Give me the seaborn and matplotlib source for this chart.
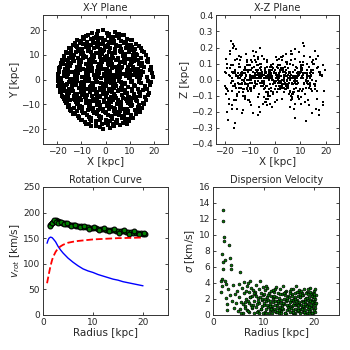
import matplotlib
matplotlib.use('Agg')
import matplotlib.pyplot as plt
import seaborn as sns

# particle positions [kpc], read row by row off the X-Y / X-Z panels
pos_x = [
    -5.6, -3.1, -0.9, 1.4, 3.9, 5.8,
    -9.3, -7.4, -4.1, -2.7, 0.9, 2.2, 4.9, 7.8, 9.0,
    -11.8, -8.9, -7.6, -4.6, -3.3, -0.2, 1.6, 3.0, 6.4, 8.5, 11.2,
    -13.7, -10.6, -9.2, -6.1, -4.9, -1.7, -0.4, 2.9, 4.2, 7.7, 9.1, 12.5,
    -15.1, -12.2, -11.0, -8.0, -6.7, -3.6, -2.3, 0.8, 2.0, 5.3, 6.5, 9.7, 11.0, 14.6,
    -16.3, -14.4, -11.3, -10.1, -7.1, -5.9, -2.9, -1.6, 1.5, 2.8, 5.9, 7.0, 10.3, 11.8, 15.9,
    -17.2, -14.3, -13.1, -10.0, -8.8, -5.8, -4.6, -1.5, -0.3, 2.7, 4.0, 7.1, 8.3, 11.5, 12.8, 16.7,
    -18.1, -15.0, -13.7, -10.4, -9.2, -6.0, -4.8, -1.6, 0.1, 3.3, 4.5, 7.8, 9.0, 12.3, 13.6, 17.5,
    -18.6, -15.7, -14.4, -11.2, -10.0, -6.9, -5.7, -2.6, -1.4, 1.7, 2.9, 6.1, 7.3, 10.5, 11.8, 15.2, 17.7,
    -19.1, -16.2, -14.9, -11.7, -10.6, -7.4, -6.2, -3.0, -1.9, 1.3, 2.5, 5.7, 6.9, 10.2, 11.5, 14.9, 18.8,
    -19.4, -16.8, -15.5, -12.3, -11.1, -8.0, -6.8, -3.7, -2.5, 0.6, 1.8, 4.9, 6.1, 9.2, 10.4, 13.6, 14.9, 19.0,
    -19.7, -17.1, -15.8, -12.7, -11.5, -8.3, -7.1, -4.0, -2.8, 0.3, 1.4, 4.6, 5.8, 8.9, 10.1, 13.3, 14.6, 19.4,
    -19.9, -17.4, -16.1, -13.0, -11.8, -8.7, -7.5, -4.4, -3.2, -0.1, 1.1, 4.2, 5.4, 8.5, 9.8, 12.9, 14.2, 19.6,
    -19.8, -18.2, -15.4, -14.1, -12.0, -9.6, -8.3, -5.5, -3.9, -1.8, 0.7, 2.4, 3.5, 6.6, 8.0, 10.9, 13.8, 18.9,
    -19.3, -17.8, -16.6, -13.9, -12.4, -10.2, -9.0, -6.3, -5.1, -1.2, 0.0, 3.1, 3.9, 6.9, 9.5, 11.7, 16.3, 18.4,
    -19.0, -17.6, -14.5, -13.5, -10.9, -9.8, -7.7, -5.3, -4.5, -2.0, -0.6, 2.0, 3.7, 7.4, 8.2, 11.1, 15.6, 17.3,
    -18.5, -16.0, -15.2, -12.6, -10.3, -9.1, -6.5, -4.1, -3.5, -0.9, 0.8, 3.4, 5.0, 8.8, 12.0, 13.9, 17.9,
    -18.0, -16.5, -13.3, -12.1, -9.9, -8.6, -5.6, -3.4, -2.2, 0.4, 2.3, 4.4, 6.7, 9.4, 11.2, 14.4, 16.4,
    -17.3, -16.0, -12.9, -11.6, -8.1, -7.0, -4.4, -2.9, -0.7, 1.9, 3.0, 6.3, 8.4, 10.7, 13.2, 17.0,
    -16.6, -15.2, -12.0, -10.8, -7.6, -6.6, -3.5, -2.4, 0.9, 1.6, 4.7, 5.9, 9.3, 10.1, 14.0, 16.2,
    -15.7, -14.5, -11.0, -9.9, -6.8, -5.4, -2.1, -1.0, 2.1, 3.9, 6.2, 8.9, 10.8, 13.5, 15.1,
    -14.4, -13.0, -9.7, -8.5, -5.2, -4.3, -1.1, 0.2, 3.6, 4.8, 8.0, 9.0, 12.4, 14.2,
    -12.9, -11.5, -7.9, -6.8, -3.4, -2.6, 1.2, 2.3, 5.6, 6.8, 10.6, 12.7,
    -11.1, -9.6, -6.3, -4.0, -2.0, 0.3, 2.6, 4.6, 6.9, 9.3, 11.6,
    -8.5, -7.0, -3.8, -1.4, 0.0, 3.3, 4.4, 7.1, 9.6,
    -5.9, -2.5, -1.2, 1.7, 3.5, 6.1,
]
pos_y = [
    18.8, 19.5, 19.9, 18.6, 19.2, 18.3,
    17.1, 18.0, 17.3, 16.7, 17.8, 16.9, 17.5, 17.9, 16.6,
    15.9, 16.4, 15.3, 16.8, 15.7, 16.1, 15.2, 16.6, 15.8, 15.4, 16.2,
    14.0, 14.9, 14.3, 13.9, 15.0, 14.5, 13.8, 14.7, 14.1, 14.8, 13.9, 14.4,
    12.9, 13.5, 12.4, 13.2, 12.6, 13.4, 12.3, 13.1, 12.7, 13.6, 12.5, 13.0, 13.3, 12.8,
    11.1, 11.9, 11.4, 10.8, 11.7, 11.2, 10.9, 11.8, 11.3, 10.7, 11.6, 11.0, 11.9, 11.4, 11.2,
    9.6, 10.3, 9.8, 10.5, 9.4, 10.1, 9.7, 10.4, 9.3, 10.0, 10.6, 9.5, 10.2, 9.8, 10.4, 9.9,
    8.0, 8.8, 8.3, 7.9, 8.7, 8.2, 9.0, 8.4, 7.8, 8.6, 8.1, 8.9, 8.3, 8.7, 7.9, 8.5,
    6.6, 7.4, 6.9, 6.3, 7.2, 6.7, 7.5, 6.5, 7.1, 7.6, 6.4, 7.0, 7.3, 6.6, 7.5, 6.8, 7.1,
    5.1, 5.9, 5.4, 4.9, 5.7, 5.2, 6.0, 5.0, 5.6, 5.8, 4.8, 5.5, 5.1, 5.9, 5.3, 5.7, 5.2,
    3.6, 4.4, 3.9, 3.4, 4.2, 3.7, 4.5, 3.5, 4.1, 4.3, 3.3, 4.0, 3.6, 4.4, 3.8, 4.2, 3.5, 4.0,
    2.1, 2.9, 2.4, 1.9, 2.7, 2.2, 3.0, 2.0, 2.6, 2.8, 1.8, 2.5, 2.1, 2.9, 2.3, 2.7, 2.0, 2.5,
    0.6, 1.4, 0.9, 0.4, 1.2, 0.7, 1.5, 0.5, 1.1, 1.3, 0.3, 1.0, 0.6, 1.4, 0.8, 1.2, 0.5, 1.0,
    -0.5, -1.3, -0.8, -1.5, -0.4, -1.1, -0.7, -1.4, -0.6, -1.2, -0.9, -1.5, -0.3, -1.0, -1.3, -0.6, -1.1, -0.8,
    -2.0, -2.8, -2.3, -3.0, -1.9, -2.6, -2.2, -2.9, -2.1, -2.7, -2.4, -3.0, -1.8, -2.5, -2.8, -2.1, -2.6, -2.3,
    -3.5, -4.3, -3.8, -4.5, -3.4, -4.1, -3.7, -4.4, -3.6, -4.2, -3.9, -4.5, -3.3, -4.0, -4.3, -3.6, -4.1, -3.8,
    -5.0, -5.8, -5.3, -6.0, -4.9, -5.6, -5.2, -5.9, -5.1, -5.7, -5.4, -6.0, -4.8, -5.5, -5.8, -5.1, -5.4,
    -6.5, -7.3, -6.8, -7.5, -6.4, -7.1, -6.7, -7.4, -6.6, -7.2, -6.9, -7.5, -6.3, -7.0, -7.3, -6.6, -7.1,
    -8.0, -8.8, -8.3, -9.0, -7.9, -8.6, -8.2, -8.9, -8.1, -8.7, -8.4, -9.0, -7.8, -8.5, -8.8, -8.2,
    -9.5, -10.3, -9.8, -10.5, -9.4, -10.1, -9.7, -10.4, -9.6, -10.2, -9.9, -10.6, -9.3, -10.0, -10.3, -9.7,
    -11.0, -11.8, -11.3, -12.0, -10.9, -11.6, -11.2, -11.9, -11.1, -11.7, -11.4, -12.0, -10.8, -11.5, -11.3,
    -12.6, -13.4, -12.9, -13.6, -12.5, -13.2, -12.8, -13.5, -12.7, -13.3, -13.0, -13.6, -12.4, -13.1,
    -14.1, -14.9, -14.4, -15.0, -14.0, -14.7, -14.3, -14.9, -14.2, -14.8, -14.5, -14.0,
    -15.6, -16.4, -15.9, -16.6, -15.5, -16.2, -15.8, -16.5, -15.4, -16.1, -15.7,
    -17.0, -17.9, -17.3, -18.1, -17.6, -17.8, -17.1, -17.5, -16.8,
    -18.6, -19.3, -19.8, -19.5, -18.7, -18.3,
]
pos_z = [
    0.02, -0.04, 0.07, -0.01, 0.05, -0.08,
    0.11, -0.03, 0.04, -0.09, 0.01, 0.06, -0.05, 0.13, -0.02,
    -0.12, 0.05, 0.17, -0.02, 0.08, -0.06, 0.03, 0.15, -0.10, 0.01, 0.09,
    0.14, -0.07, 0.02, 0.10, -0.15, 0.04, -0.01, 0.07, -0.04, 0.19, -0.11, 0.06,
    -0.18, 0.06, -0.03, 0.12, 0.01, -0.08, 0.05, -0.13, 0.09, -0.02, 0.16, -0.06, 0.03, 0.11,
    0.21, -0.05, 0.09, -0.14, 0.03, 0.07, -0.10, 0.02, -0.04, 0.12, -0.17, 0.05, 0.08, -0.09, 0.18,
    -0.16, 0.10, -0.02, 0.06, -0.21, 0.01, 0.13, -0.07, 0.04, -0.12, 0.08, 0.02, -0.05, 0.15, -0.03, 0.07,
    0.18, -0.09, 0.04, -0.13, 0.07, 0.20, -0.02, 0.09, -0.06, 0.03, 0.11, -0.15, 0.05, -0.01, 0.14, -0.19,
    -0.25, 0.03, 0.15, -0.06, 0.01, -0.11, 0.08, 0.02, -0.17, 0.05, -0.03, 0.12, -0.08, 0.06, -0.14, 0.10, 0.04,
    0.07, -0.13, 0.02, 0.16, -0.04, 0.09, -0.20, 0.03, 0.06, -0.01, 0.14, -0.07, 0.01, -0.11, 0.21, 0.04, -0.16,
    -0.09, 0.22, -0.05, 0.04, 0.11, -0.02, 0.06, -0.14, 0.01, 0.08, -0.06, 0.03, 0.18, -0.10, 0.05, -0.03, 0.12, 0.09,
    0.13, -0.18, 0.06, -0.08, 0.02, 0.15, -0.03, 0.07, -0.12, 0.04, 0.01, -0.05, 0.10, 0.02, -0.15, 0.08, -0.21, -0.07,
    -0.04, 0.09, -0.27, 0.03, -0.10, 0.05, 0.01, -0.06, 0.12, -0.02, 0.07, 0.16, -0.09, 0.04, 0.11, -0.13, 0.02, 0.06,
    0.05, -0.12, 0.19, -0.03, 0.08, -0.16, 0.02, 0.10, -0.05, 0.03, -0.08, 0.14, 0.01, -0.11, 0.06, 0.23, -0.04, -0.14,
    -0.20, 0.07, -0.01, 0.12, -0.06, 0.03, 0.18, -0.09, 0.05, 0.01, -0.14, 0.06, -0.02, 0.09, -0.07, 0.04, 0.13, 0.03,
    0.10, 0.24, -0.08, 0.02, -0.13, 0.06, -0.03, 0.15, 0.01, -0.10, 0.04, -0.05, 0.08, -0.18, 0.02, 0.11, -0.06, -0.22,
    -0.15, 0.04, 0.13, -0.06, 0.09, -0.02, -0.17, 0.05, 0.02, -0.08, 0.12, 0.00, -0.04, 0.07, -0.26, 0.14, 0.05,
    0.16, -0.30, 0.05, -0.11, 0.02, 0.08, -0.04, 0.11, -0.15, 0.03, -0.01, 0.06, -0.09, 0.17, 0.04, -0.07, -0.12,
    -0.07, 0.12, -0.19, 0.06, -0.02, 0.14, 0.03, -0.08, 0.10, -0.04, 0.05, -0.13, 0.08, 0.01, -0.05, 0.15,
    0.20, -0.10, 0.07, -0.03, 0.11, -0.17, 0.01, 0.06, -0.06, 0.13, -0.01, 0.04, -0.12, 0.09, 0.02, -0.18,
    -0.13, 0.15, -0.05, 0.09, -0.22, 0.04, 0.01, -0.09, 0.07, -0.03, 0.16, -0.07, 0.02, -0.16, 0.10,
    0.08, -0.21, 0.12, -0.04, 0.03, -0.11, 0.06, 0.14, -0.08, 0.02, -0.24, 0.05, 0.10, -0.06,
    -0.10, 0.06, -0.02, 0.13, -0.16, 0.04, 0.09, -0.05, 0.01, -0.12, 0.07, 0.03,
    0.12, -0.07, 0.03, -0.14, 0.08, 0.01, -0.04, 0.10, -0.09, 0.05, -0.02,
    -0.05, 0.09, -0.12, 0.02, 0.06, -0.03, 0.11, -0.08, 0.04,
    0.03, -0.06, 0.08, -0.02, 0.05, -0.10,
]

# second batch of particles, band by band (mostly close to the mid-plane)
pos2_x = [
    -8.1, -6.2, -3.7, -1.3, 0.5, 2.1, 3.3, 5.6, 6.9, 10.4,
    -14.2, -12.9, -12.0, -10.1, -9.6, -7.8, -5.4, -5.0, -3.1, -1.0, -0.6, 1.2, 3.7, 3.8, 5.9, 8.2, 8.6, 10.4, 12.2, 13.9,
    -17.3, -16.0, -15.6, -13.8, -12.4, -11.6, -9.5, -8.1, -7.0, -5.2, -3.9, -2.4, -0.9, 0.7, 1.9, 3.6, 5.1, 6.4, 8.0, 9.8, 10.6, 12.9, 14.8, 15.2,
    -19.2, -17.9, -16.8, -15.9, -14.6, -13.1, -12.0, -10.9, -9.4, -8.2, -7.0, -5.5, -4.3, -2.9, -1.7, -0.5, 0.9, 2.3, 3.8, 4.9, 6.6, 7.9, 9.5, 11.0, 12.6, 13.8, 16.2, 17.1,
    -19.5, -18.6, -17.0, -16.4, -14.7, -13.9, -12.2, -10.6, -9.7, -8.1, -6.9, -5.8, -4.6, -3.0, -1.9, -0.6, 0.8, 2.5, 3.2, 4.8, 6.0, 7.3, 8.8, 10.2, 11.6, 12.4, 14.0, 15.8, 17.3, 18.5,
    -19.6, -18.4, -17.2, -16.0, -15.1, -13.3, -12.8, -11.2, -10.0, -8.9, -7.4, -6.0, -4.9, -3.4, -2.3, -0.9, 0.4, 1.5, 2.9, 4.5, 5.7, 6.3, 7.9, 9.2, 10.6, 12.1, 13.4, 14.6, 16.5, 17.8,
    -19.0, -17.7, -16.9, -15.7, -14.1, -13.2, -11.8, -10.6, -9.5, -7.9, -6.6, -5.1, -3.8, -2.5, -1.1, 0.1, 1.4, 2.8, 4.1, 5.6, 7.1, 8.3, 9.9, 11.1, 12.8, 14.2, 15.7, 17.6,
    -16.9, -15.8, -14.7, -13.2, -12.1, -10.4, -9.6, -8.2, -6.4, -5.3, -3.7, -2.0, -0.8, 0.6, 2.2, 3.4, 5.3, 6.6, 7.8, 9.0, 11.2, 12.5, 13.7, 15.6,
    -14.8, -13.6, -11.9, -11.0, -9.2, -7.4, -6.1, -4.8, -3.0, -1.9, -0.1, 1.6, 2.7, 4.1, 6.0, 7.6, 9.4, 10.8, 12.6, 14.1,
    -10.2, -8.0, -6.0, -3.9, -2.2, 0.9, 1.8, 4.9, 7.9, 8.8,
]
pos2_y = [
    17.6, 16.3, 18.4, 16.9, 18.9, 16.2, 17.4, 16.8, 18.0, 16.1,
    12.5, 14.8, 13.1, 15.6, 12.2, 14.0, 15.3, 12.8, 13.9, 15.4, 12.1, 14.2, 15.6, 12.4, 13.7, 15.2, 12.9, 14.1, 12.3, 13.6,
    8.9, 10.9, 8.1, 9.2, 11.3, 8.6, 10.8, 9.1, 11.5, 8.4, 10.7, 9.0, 11.6, 9.6, 8.3, 10.9, 8.8, 11.3, 9.4, 11.0, 8.2, 10.1, 8.7, 11.6,
    4.6, 6.2, 7.9, 4.3, 6.0, 7.7, 5.0, 7.1, 4.5, 6.4, 8.0, 4.9, 7.3, 5.4, 7.9, 4.2, 6.2, 7.6, 5.3, 7.8, 4.6, 6.8, 5.0, 7.3, 4.4, 6.5, 5.1, 7.4,
    2.9, 0.7, 3.6, 1.8, 0.2, 3.1, 1.5, 3.8, 0.9, 2.5, 0.3, 3.4, 1.7, 3.9, 0.8, 2.2, 3.6, 0.4, 2.0, 3.3, 0.9, 2.4, 3.8, 0.5, 1.9, 3.5, 0.8, 2.9, 1.1, 3.7,
    -2.6, -0.9, -3.3, -1.6, -3.9, -0.4, -2.2, -3.5, -1.3, -3.0, -0.6, -2.4, -3.8, -1.0, -3.2, -1.9, -0.2, -3.6, -1.5, -2.7, -0.5, -3.4, -1.8, -3.1, -0.8, -2.6, -3.9, -1.2, -2.9, -0.4,
    -5.2, -7.1, -4.6, -6.6, -4.2, -7.8, -5.7, -7.4, -4.8, -6.3, -4.5, -7.7, -5.5, -7.0, -4.4, -6.4, -7.9, -5.0, -6.8, -4.3, -7.5, -5.4, -6.9, -4.7, -7.2, -5.6, -4.4, -6.4,
    -8.7, -10.9, -8.2, -11.4, -9.1, -8.3, -11.0, -9.5, -11.7, -8.6, -10.2, -11.8, -8.9, -10.8, -9.2, -11.6, -8.4, -10.4, -11.9, -8.6, -10.3, -8.1, -11.2, -9.3,
    -12.2, -13.9, -12.6, -15.1, -13.4, -12.1, -15.6, -13.7, -12.3, -15.0, -13.2, -12.0, -15.4, -13.8, -12.5, -14.6, -12.8, -15.3, -13.5, -12.4,
    -16.4, -18.0, -16.9, -18.7, -16.3, -18.4, -16.7, -17.5, -16.2, -17.9,
]
pos2_z = [
    0.03, -0.02, 0.05, 0.00, -0.04, 0.02, -0.01, 0.04, -0.03, 0.01,
    -0.03, 0.04, 0.01, -0.05, 0.02, 0.06, -0.01, 0.03, -0.04, 0.00, 0.05, -0.02, 0.02, -0.06, 0.04, 0.01, -0.03, 0.07, 0.00, -0.02,
    0.05, -0.04, 0.02, 0.08, -0.01, 0.03, -0.06, 0.01, 0.04, -0.02, 0.06, 0.00, -0.03, 0.02, 0.05, -0.05, 0.01, 0.03, -0.01, 0.04, -0.07, 0.02, 0.06, -0.03,
    -0.06, 0.02, 0.09, -0.03, 0.04, 0.00, -0.02, 0.05, 0.01, -0.04, 0.03, 0.06, -0.01, 0.02, -0.05, 0.04, 0.00, -0.02, 0.03, 0.07, -0.03, 0.01, 0.05, -0.06, 0.02, 0.04, -0.01, 0.08,
    0.04, -0.07, 0.01, 0.05, -0.02, 0.03, 0.00, -0.04, 0.06, 0.02, -0.01, 0.04, -0.03, 0.01, 0.05, -0.02, 0.03, 0.07, -0.05, 0.00, 0.02, -0.01, 0.04, 0.06, -0.03, 0.01, 0.03, -0.04, 0.05, 0.02,
    -0.05, 0.03, -0.01, 0.06, 0.02, -0.03, 0.04, 0.00, -0.06, 0.01, 0.05, -0.02, 0.03, -0.04, 0.02, 0.07, -0.01, 0.04, 0.00, -0.03, 0.05, 0.01, -0.02, 0.03, 0.06, -0.05, 0.02, 0.00, -0.07, 0.04,
    0.07, -0.02, 0.04, -0.05, 0.01, 0.03, -0.03, 0.06, 0.00, -0.01, 0.04, 0.02, -0.04, 0.05, 0.01, -0.02, 0.03, 0.00, -0.06, 0.04, 0.02, -0.03, 0.05, 0.01, -0.01, 0.06, -0.04, 0.03,
    -0.04, 0.05, 0.01, -0.02, 0.06, 0.00, -0.05, 0.03, 0.02, -0.01, 0.04, -0.03, 0.07, 0.01, -0.04, 0.02, 0.05, -0.02, 0.00, 0.03, -0.06, 0.04, 0.01, -0.03,
    0.02, -0.05, 0.04, 0.00, -0.02, 0.06, 0.01, -0.04, 0.03, 0.05, -0.01, 0.02, -0.03, 0.04, 0.00, -0.06, 0.03, 0.01, -0.02, 0.05,
    -0.02, 0.04, 0.01, -0.05, 0.03, 0.00, 0.06, -0.03, 0.02, -0.01,
]

# measured rotation speeds [km/s]
rot_r = [1.3, 1.5, 1.7, 1.9, 2.1, 2.3, 2.5, 2.7, 2.9, 3.1,
         3.4, 3.7, 4.0, 4.3, 4.6, 5.0, 5.4, 5.8, 6.2, 6.6,
         7.0, 7.5, 8.0, 8.5, 9.0, 9.5, 10.0, 10.5, 11.0, 11.5,
         12.0, 12.5, 13.0, 13.5, 14.0, 14.5, 15.0, 15.5, 16.0, 16.5,
         17.0, 17.5, 18.0, 18.5, 19.0, 19.5, 20.0, 20.3,
         1.4, 1.8, 2.2, 2.6, 3.0, 3.5, 4.1, 4.8, 5.6, 6.4, 7.3, 8.2,
         9.2, 10.2, 11.2, 12.2, 13.2, 14.2, 15.2, 16.2, 17.2, 18.2, 19.2, 20.1]
rot_v = [175, 177, 179, 181, 183, 184, 185, 184, 183, 182,
         181, 180, 179.5, 179, 178, 177, 176.5, 176, 175, 174.5,
         174, 173, 172, 171.5, 171, 170, 169.5, 169, 168, 167.5,
         167, 166.5, 166, 165.5, 165, 164.5, 164, 163.5, 163, 162.5,
         162, 161.5, 161, 160.5, 160, 159.5, 159, 158.5,
         173, 180, 186, 181, 179, 182, 177, 180, 173, 176, 171, 174,
         168, 171, 165, 169, 163, 167, 161, 165, 159, 163, 158, 161]

# model components
model_r = [0.8, 1.0, 1.2, 1.5, 1.8, 2.0, 2.5, 3.0, 3.5, 4.0, 5.0, 6.0, 7.0,
           8.0, 9.0, 10.0, 11.0, 12.0, 13.0, 14.0, 15.0, 16.0, 17.0, 18.0, 19.0, 20.0]
v_blue = [140, 146, 150, 152, 151, 149, 143, 134, 127, 121, 111, 103, 96,
          90, 86, 83, 79, 76, 73, 70, 68, 65, 63, 61, 59, 57]
v_red = [62, 72, 82, 96, 107, 113, 123, 130, 134, 137, 141, 143, 144.5,
         145.5, 146.5, 147.5, 148, 148.5, 149, 149.5, 150, 150, 150.5, 150.5, 151, 151]

# velocity dispersion [km/s]
disp_r = [1.5, 1.6, 1.7, 1.8, 1.9, 2.0, 2.0, 2.1, 2.2, 2.3, 2.0, 1.7, 2.4, 2.6, 2.5,
          2.8, 3.0, 3.2, 3.4, 3.5, 3.6, 3.3, 3.8, 4.0, 4.2, 4.4, 4.6, 4.8, 4.9, 2.7,
          5.1, 5.3, 5.4, 5.6, 5.8, 5.9, 6.1, 6.2, 6.4, 6.5, 6.7, 6.8, 7.0, 7.1, 7.2,
          7.4, 7.5, 7.7, 7.8, 8.0, 8.1, 8.2, 8.4, 8.5, 8.6, 8.8, 8.9, 9.0, 9.1, 9.3,
          9.4, 9.5, 9.6, 9.8, 9.9, 5.5, 6.0, 6.6, 7.3, 7.9, 8.3, 8.7, 9.2, 9.7, 5.2,
          6.3, 7.6, 8.9, 9.9, 6.9,
          10.0, 10.1, 10.2, 10.3, 10.4, 10.5, 10.6, 10.7, 10.8, 10.9, 11.0, 11.1, 11.2,
          11.3, 11.4, 11.5, 11.6, 11.7, 11.8, 11.9, 12.0, 12.1, 12.2, 12.3, 12.4, 12.5,
          12.6, 12.7, 12.8, 12.9, 13.0, 13.1, 13.2, 13.3, 13.4, 13.5, 13.6, 13.7, 13.8,
          13.9, 14.0, 14.1, 14.2, 14.3, 14.4, 14.5, 14.6, 14.7, 14.8, 14.9, 10.5, 11.5,
          12.5, 13.5, 14.5, 10.2, 11.3, 12.3, 13.2, 14.2,
          15.0, 15.1, 15.2, 15.3, 15.4, 15.5, 15.6, 15.7, 15.8, 15.9, 16.0, 16.1, 16.2,
          16.3, 16.4, 16.5, 16.6, 16.7, 16.8, 16.9, 17.0, 17.1, 17.2, 17.3, 17.4, 17.5,
          17.6, 17.7, 17.8, 17.9, 18.0, 18.1, 18.2, 18.3, 18.4, 18.5, 18.6, 18.7, 18.8,
          18.9, 19.0, 19.1, 19.2, 19.3, 19.4, 19.5, 19.6, 19.7, 19.8, 19.9, 20.0, 20.1,
          20.2, 20.3, 20.4, 15.2, 15.8, 16.3, 16.9, 17.4, 17.9, 18.4, 18.9, 19.4, 19.9,
          20.2, 15.5, 16.6, 17.7, 18.8, 19.6, 20.0, 15.9, 17.1, 18.2, 19.1, 20.3, 16.2,
          19.3, 20.1,
          6.3, 6.9, 7.4, 7.8, 8.2, 8.7, 9.1, 9.6, 10.1, 10.4, 10.8, 11.2, 11.6, 11.9,
          12.2, 12.6, 12.9, 13.3, 13.6, 13.9, 14.3, 14.6, 14.9, 15.1, 15.4, 15.6, 15.9,
          16.1, 16.4, 16.6, 16.9, 17.1, 17.3, 17.6, 17.8, 18.1, 18.3, 18.6, 18.8, 19.0,
          19.2, 19.5, 19.7, 19.9, 20.1, 20.3, 10.6, 11.4, 12.0, 12.8, 13.4, 14.1, 14.7,
          15.3, 15.8, 16.3, 16.8, 17.2, 17.7, 18.2, 18.7, 19.1, 19.6, 20.0, 20.4, 8.5,
          9.4, 7.1, 11.8, 13.0]
disp_s = [2.9, 4.2, 3.6, 7.6, 13.1, 11.8, 6.6, 9.3, 9.7, 6.9, 5.8, 4.5, 4.3, 3.9, 2.1,
          1.4, 3.2, 8.8, 7.1, 5.7, 6.2, 2.5, 1.8, 3.7, 0.9, 2.6, 1.5, 3.0, 0.5, 0.6,
          2.2, 0.8, 5.4, 1.6, 3.4, 0.3, 2.7, 4.1, 1.1, 2.0, 0.6, 3.6, 1.8, 2.9, 0.4,
          4.2, 1.3, 2.4, 0.9, 3.1, 1.7, 0.2, 2.6, 3.8, 1.0, 2.1, 0.5, 3.3, 1.5, 4.3,
          0.7, 2.8, 1.9, 0.3, 3.5, 0.2, 1.4, 3.0, 2.2, 1.2, 2.9, 0.4, 2.3, 1.1, 3.9,
          0.9, 3.4, 1.8, 2.5, 4.0,
          1.2, 2.6, 0.4, 3.1, 1.7, 0.8, 2.2, 3.4, 1.0, 1.9, 0.3, 2.8, 1.4,
          0.6, 2.4, 3.0, 1.1, 0.2, 2.0, 1.6, 2.9, 0.7, 1.8, 3.3, 0.4, 2.3,
          1.3, 0.9, 2.7, 1.5, 0.2, 2.1, 3.2, 1.0, 1.9, 0.5, 2.6, 1.2, 3.6,
          0.8, 2.0, 1.4, 0.3, 2.5, 1.7, 3.0, 0.6, 1.9, 1.1, 2.4, 3.6, 0.9,
          3.5, 1.5, 0.1, 2.0, 1.8, 0.5, 0.7, 2.9,
          1.3, 2.2, 0.4, 3.0, 1.7, 0.9, 2.6, 1.1, 3.3, 0.2, 2.0, 1.5, 0.7,
          2.8, 1.2, 3.6, 0.5, 1.9, 2.4, 0.9, 1.6, 3.1, 0.3, 2.2, 1.3, 0.8,
          2.7, 1.8, 0.4, 2.5, 1.0, 3.2, 1.7, 0.6, 2.1, 1.4, 0.2, 2.9, 1.2,
          0.8, 2.3, 1.6, 3.4, 0.5, 1.9, 2.6, 1.1, 0.3, 2.2, 1.5, 3.0, 0.7,
          2.0, 1.3, 2.5, 2.7, 1.9, 0.1, 2.9, 3.0, 1.1, 2.8, 1.9, 0.9, 2.8,
          3.2, 3.2, 1.4, 2.5, 3.3, 2.4, 1.8, 0.6, 0.5, 0.1, 0.2, 0.4, 2.3,
          2.9, 2.6,
          1.6, 0.5, 2.3, 1.0, 2.8, 1.4, 0.2, 2.0, 1.5, 0.3, 2.5, 1.1, 0.6, 2.2,
          1.3, 0.4, 1.8, 2.6, 0.9, 1.5, 0.2, 2.1, 1.0, 0.7, 1.9, 2.4, 1.2,
          0.3, 1.7, 2.9, 0.6, 1.4, 2.3, 0.9, 1.6, 0.4, 2.0, 1.1, 2.6, 0.5,
          1.8, 1.3, 0.2, 1.7, 2.2, 0.9, 1.2, 0.8, 2.4, 1.7, 0.3, 2.7, 1.3,
          1.6, 0.4, 2.0, 1.2, 2.6, 0.7, 1.4, 2.1, 1.0, 1.6, 0.6, 1.5, 2.4,
          0.8, 1.5, 3.1, 0.6]

sns.set_style('ticks', {'xtick.direction': 'in', 'ytick.direction': 'in'})
plt.rcParams['font.family'] = ['DejaVu Sans']
plt.rcParams['mathtext.fontset'] = 'dejavusans'
plt.rcParams['axes.linewidth'] = 0.7

fig = plt.figure(figsize=(3.5, 3.5), dpi=100)
ax_xy = fig.add_axes([0.123, 0.589, 0.357, 0.367])
ax_xz = fig.add_axes([0.617, 0.589, 0.351, 0.367])
ax_rot = fig.add_axes([0.123, 0.100, 0.357, 0.366])
ax_sig = fig.add_axes([0.609, 0.100, 0.360, 0.366])

all_x = pos_x + pos2_x
all_y = pos_y + pos2_y
all_z = pos_z + pos2_z

sns.scatterplot(x=all_x, y=all_y, ax=ax_xy, color='k', marker='s', s=5, linewidth=0)
ax_xy.set_xlim(-26, 26)
ax_xy.set_ylim(-26, 26)
ax_xy.set_xticks([-20, -10, 0, 10, 20])
ax_xy.set_yticks([-20, -10, 0, 10, 20])
ax_xy.set_title('X-Y Plane', fontsize=7, pad=3)
ax_xy.set_xlabel('X [kpc]', fontsize=7.5, labelpad=1)
ax_xy.set_ylabel('Y [kpc]', fontsize=7.5, labelpad=1)

sns.scatterplot(x=all_x, y=all_z, ax=ax_xz, color='k', marker='s', s=4, linewidth=0)
ax_xz.set_xlim(-23.5, 25.2)
ax_xz.set_ylim(-0.4, 0.4)
ax_xz.set_xticks([-20, -10, 0, 10, 20])
ax_xz.set_yticks([-0.4, -0.3, -0.2, -0.1, 0.0, 0.1, 0.2, 0.3, 0.4])
ax_xz.set_title('X-Z Plane', fontsize=7, pad=3)
ax_xz.set_xlabel('X [kpc]', fontsize=7.5, labelpad=1)
ax_xz.set_ylabel('Z [kpc]', fontsize=7.5, labelpad=1)

sns.scatterplot(x=rot_r, y=rot_v, ax=ax_rot, color='g', edgecolor='k', s=12, linewidth=0.8)
sns.lineplot(x=model_r, y=v_blue, ax=ax_rot, color='b', lw=1, estimator=None, sort=False)
sns.lineplot(x=model_r, y=v_red, ax=ax_rot, color='r', lw=1.3, ls='--', estimator=None, sort=False)
ax_rot.set_xlim(0, 25)
ax_rot.set_ylim(0, 250)
ax_rot.set_title('Rotation Curve', fontsize=7, pad=3)
ax_rot.set_xlabel('Radius [kpc]', fontsize=7.5, labelpad=1)
ax_rot.set_ylabel(r'$v_{rot}$ [km/s]', fontsize=7.5, labelpad=1)

sns.scatterplot(x=disp_r, y=disp_s, ax=ax_sig, color='g', edgecolor='k', s=4, linewidth=0.5)
ax_sig.set_xlim(0, 25)
ax_sig.set_ylim(0, 16)
ax_sig.set_yticks([0, 2, 4, 6, 8, 10, 12, 14, 16])
ax_sig.set_title('Dispersion Velocity', fontsize=7, pad=3)
ax_sig.set_xlabel('Radius [kpc]', fontsize=7.5, labelpad=1)
ax_sig.set_ylabel(r'$\sigma$ [km/s]', fontsize=7.5, labelpad=1)

for ax in [ax_xy, ax_xz, ax_rot, ax_sig]:
    ax.tick_params(labelsize=6.5, direction='in', top=True, right=True,
                   length=2.5, width=0.6, pad=2)
    for sp in ax.spines.values():
        sp.set_color('#333333')

fig.savefig('out.png', dpi=100)
